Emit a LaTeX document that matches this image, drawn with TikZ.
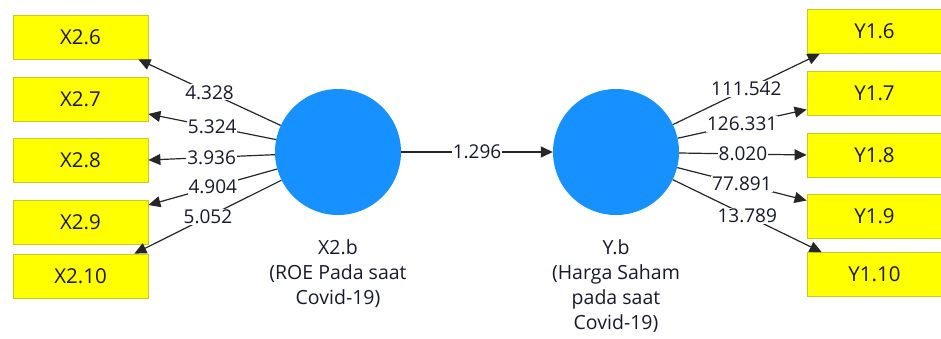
\documentclass[tikz,border=0pt]{standalone}
\usepackage{fontspec}
\setmainfont{Open Sans}
\usetikzlibrary{arrows.meta,calc}
\definecolor{boxyellow}{RGB}{255,255,0}
\definecolor{boxedge}{RGB}{200,200,40}
\definecolor{lvblue}{RGB}{22,145,255}
\definecolor{txt}{RGB}{25,25,45}
\begin{document}
\begin{tikzpicture}[x=1pt,y=-1pt,
  every node/.style={font=\fontsize{19}{25}\selectfont, text=txt},
  ind/.style={draw=boxedge, fill=boxyellow, line width=0.8pt, minimum width=135pt, minimum height=44pt, inner sep=0pt, font=\fontsize{20.5}{25}\selectfont},
  lv/.style={circle, fill=lvblue, draw=none, minimum size=126pt, inner sep=0pt},
  conn/.style={draw=black!85, line width=1.2pt, -{Triangle[length=12pt,width=11pt]}},
  val/.style={fill=white, inner sep=1pt, pos=0.5},
  lvcaption/.style={align=center, anchor=north, inner sep=0pt, font=\fontsize{19.5}{25}\selectfont}]
\useasboundingbox (0,0) rectangle (941,338);
\clip (0,0) rectangle (941,338);
% left indicators
\node[ind] (x26) at (80.5,37) {X2.6};
\node[ind] (x27) at (80.5,99) {X2.7};
\node[ind] (x28) at (80.5,160) {X2.8};
\node[ind] (x29) at (80.5,222) {X2.9};
\node[ind] (x210) at (80.5,276) {X2.10};
% right indicators
\node[ind] (y16) at (874.5,31.5) {Y1.6};
\node[ind] (y17) at (874.5,93.5) {Y1.7};
\node[ind] (y18) at (874.5,155) {Y1.8};
\node[ind] (y19) at (874.5,216.5) {Y1.9};
\node[ind] (y110) at (874.5,274.5) {Y1.10};
% latent variables
\node[lv] (c1) at (338,152) {};
\node[lv] (c2) at (616,152) {};
\node[lvcaption] (c1lab) at (338,239) {X2.b\\(ROE Pada saat\\Covid-19)};
\node[lvcaption] (c2lab) at (616,239) {Y.b\\(Harga Saham\\pada saat\\Covid-19)};
% target coordinates
\coordinate (t26) at ($(x26.south east)+(-10,0)$);
\coordinate (t27) at ($(x27.east)+(0,15)$);
\coordinate (t28) at (x28.east);
\coordinate (t29) at ($(x29.east)+(0,-17)$);
\coordinate (t210) at ($(x210.north east)+(-14,0)$);
\coordinate (s16) at ($(y16.south west)+(13,0)$);
\coordinate (s17) at ($(y17.west)+(0,16)$);
\coordinate (s18) at (y18.west);
\coordinate (s19) at ($(y19.west)+(0,-16)$);
\coordinate (s110) at ($(y110.north west)+(15,0)$);
% left connectors
\draw[conn] (c1) -- node[val] {4.328} (t26);
\draw[conn] (c1) -- node[val] {5.324} (t27);
\draw[conn] (c1) -- node[val] {3.936} (t28);
\draw[conn] (c1) -- node[val] {4.904} (t29);
\draw[conn] (c1) -- node[val] {5.052} (t210);
% structural path
\draw[conn] (c1) -- node[val] {1.296} (c2);
% right connectors
\draw[conn] (c2) -- node[val] {111.542} (s16);
\draw[conn] (c2) -- node[val] {126.331} (s17);
\draw[conn] (c2) -- node[val] {8.020} (s18);
\draw[conn] (c2) -- node[val] {77.891} (s19);
\draw[conn] (c2) -- node[val] {13.789} (s110);
\end{tikzpicture}
\end{document}
